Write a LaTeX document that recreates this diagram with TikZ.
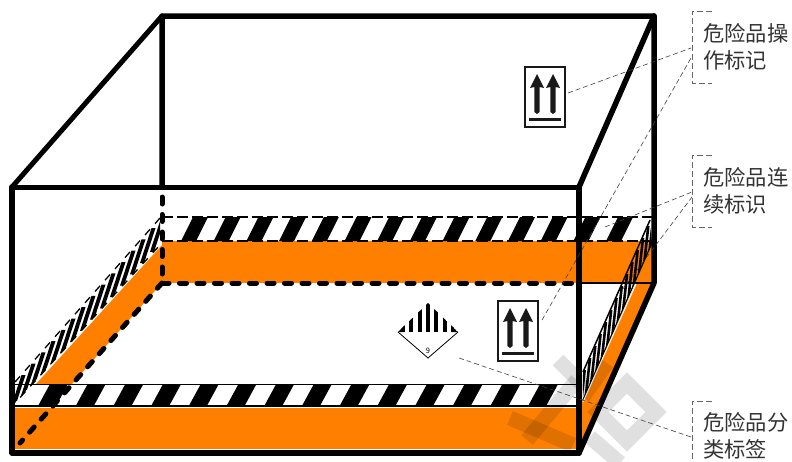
\documentclass[tikz,border=0pt]{standalone}
\usepackage{fontspec}
\setmainfont{Noto Sans CJK SC}
\definecolor{sideorange}{HTML}{FF8000}
\begin{document}
\begin{tikzpicture}[x=1pt,y=-1pt,font=\fontsize{21.3}{26.5}\selectfont,
  frame/.style={line width=5.5pt,line join=round,line cap=round},
  hidden/.style={line width=5pt,line cap=round,dash pattern=on 7pt off 10.5pt},
  seam/.style={line width=1.4pt,dash pattern=on 11pt off 4pt},
  leader/.style={black!75,line width=0.6pt,dash pattern=on 5pt off 3pt},
  bracket/.style={black!60,line width=0.7pt,dash pattern=on 6pt off 3pt},
  tag/.style={anchor=west,align=left,inner sep=0pt,text=black!80},
  wmark/.style={black,opacity=0.12,line width=15pt},
  sign/.style={draw=black!90,line width=1.5pt,fill=white,minimum width=40pt,minimum height=60pt,inner sep=0pt},
  updouble/.pic={
    \foreach \ax in {-8,8} {\fill[black!90] (\ax-7,-9) -- (\ax,-23) -- (\ax+7,-9) -- (\ax+2.6,-10) -- (\ax+2.6,15) -- (\ax,17) -- (\ax-2.6,15) -- (\ax-2.6,-10) -- cycle;}
    \fill[black!90] (-16,20.5) rectangle (16,24);
  }]
\useasboundingbox (0,0) rectangle (792,461);
\fill[white] (0,0) rectangle (792,461);
% orange sides
\fill[sideorange] (162,241) rectangle (654,283);
\fill[sideorange] (12,408) rectangle (579,449);
\fill[sideorange] (162,245) -- (162,283) -- (72,384) -- (36,384) -- cycle;
\fill[sideorange] (581,403) -- (636,283) -- (656,283) -- (581,449) -- cycle;
% back band
\foreach \k in {0,...,13} {\fill[xshift=\k*32.7pt] (193,217) -- (208,217) -- (196,241) -- (181,241) -- cycle;}
\draw[seam] (162,217) -- (654,217);
\draw[seam] (162,241) -- (654,241);
\draw[line width=1.2pt] (579,283) -- (654,283);
% front band
\foreach \k in {0,...,13} {\fill[xshift=\k*37.7pt] (50,384) -- (68,384) -- (56,406) -- (38,406) -- cycle;}
\draw[line width=0.8pt] (12,384) -- (579,384);
\draw[line width=1.2pt] (12,406) -- (579,406);
% left band
\begin{scope}
\clip (15,382) -- (160,218) -- (160,245) -- (15,403) -- cycle;
\foreach \k in {0,...,14} {\fill[xshift=\k*10pt,yshift=\k*11.3pt] (10,410) -- (14,410) -- (25.5,375) -- (21.5,375) -- cycle;}
\end{scope}
\draw[line width=1.3pt,dash pattern=on 7.5pt off 7.6pt] (15,382) -- (160,218);
\draw[line width=1.3pt,dash pattern=on 7.5pt off 7.6pt,dash phase=7.5pt] (15,403) -- (160,245);
% right band
\begin{scope}
\clip (583,372) -- (650,220) -- (652,243) -- (583,400) -- cycle;
\foreach \k in {-1,...,14} {\fill[xshift=\k*5.3pt,yshift=\k*12pt] (579,410) -- (581.6,410) -- (586,370) -- (583.4,370) -- cycle;}
\end{scope}
\draw[line width=1.5pt] (583,372) -- (650,220);
\draw[line width=1.2pt] (583,400) -- (652,243);
\draw[white,line width=1pt] (583,402) -- (636,284);
% hidden edges
\draw[hidden] (162,197) -- (162,283);
\draw[hidden] (162,283) -- (574,283);
\draw[hidden] (162,283) -- (20,443);
% box
\draw[frame] (162,187) -- (162,16) -- (654,16) -- (654,283) -- (579,453);
\draw[frame,line width=5pt] (12,187) -- (162,16);
\draw[frame] (579,187) -- (654,16);
\draw[frame,line width=5pt] (12,187) -- (579,187);
\draw[frame] (579,187) -- (579,453) -- (12,453) -- (12,187);
% watermark
\draw[wmark] (558,360) -- (585,387);
\draw[wmark] (527,440) -- (577,380);
\draw[wmark] (510,418) -- (573,445);
\draw[wmark] (607,363) -- (583,397);
\draw[wmark] (590,437) -- (620,463);
\draw[wmark,line join=miter] (627,383) -- (656,412) -- (627,441) -- (598,412) -- cycle;
% signs
\node[sign] (signtop) at (545,97) {};
\pic at (signtop) {updouble};
\node[sign] (signfloor) at (518,331) {};
\pic at (signfloor) {updouble};
\node[inner sep=0pt,minimum size=1pt] (hazard) at (428,332) {};
\fill[white] (394,332) -- (428,298) -- (462,332) -- (428,362) -- cycle;
\begin{scope}
\clip (398,332) -- (428,303) -- (458,332) -- cycle;
\foreach \sx in {-3,...,3} {\fill (hazard) ++(\sx*8.3-2,-30) rectangle ++(4,30);}
\fill (398,332) -- (404,326) -- (404,332) -- cycle;
\fill (458,332) -- (452,326) -- (452,332) -- cycle;
\end{scope}
\draw[line width=0.8pt] (398,332) -- (428,358) -- (458,332);
\node[inner sep=0pt,font=\fontsize{7.5}{7.5}\selectfont] (hazardnum) at (428,351) {9};
% tags
\node[tag] (tagop) at (703,47) {危险品操\\作标记};
\node[tag] (tagcont) at (703,191) {危险品连\\续标识};
\node[tag] (tagclass) at (703,436) {危险品分\\类标签};
\draw[bracket] (712,11) -- (692,11) -- (692,83) -- (712,83);
\draw[bracket] (712,155) -- (692,155) -- (692,227) -- (712,227);
\draw[bracket] (712,401) -- (692,401) -- (692,461);
% leaders
\coordinate (optop) at (691,48);
\coordinate (opfloor) at (691,58);
\coordinate (conttop) at (692,192);
\coordinate (contlow) at (692,197);
\coordinate (classend) at (691,437);
\coordinate (signtopend) at (568,93);
\coordinate (signfloorend) at (542,320);
\coordinate (backband) at (605,227);
\coordinate (rightband) at (622,290);
\coordinate (hazardend) at (459,358);
\draw[leader] (signtopend) -- (optop);
\draw[leader] (signfloorend) -- (opfloor);
\draw[leader] (backband) -- (conttop);
\draw[leader] (rightband) -- (contlow);
\draw[leader] (hazardend) -- (classend);
\end{tikzpicture}
\end{document}
